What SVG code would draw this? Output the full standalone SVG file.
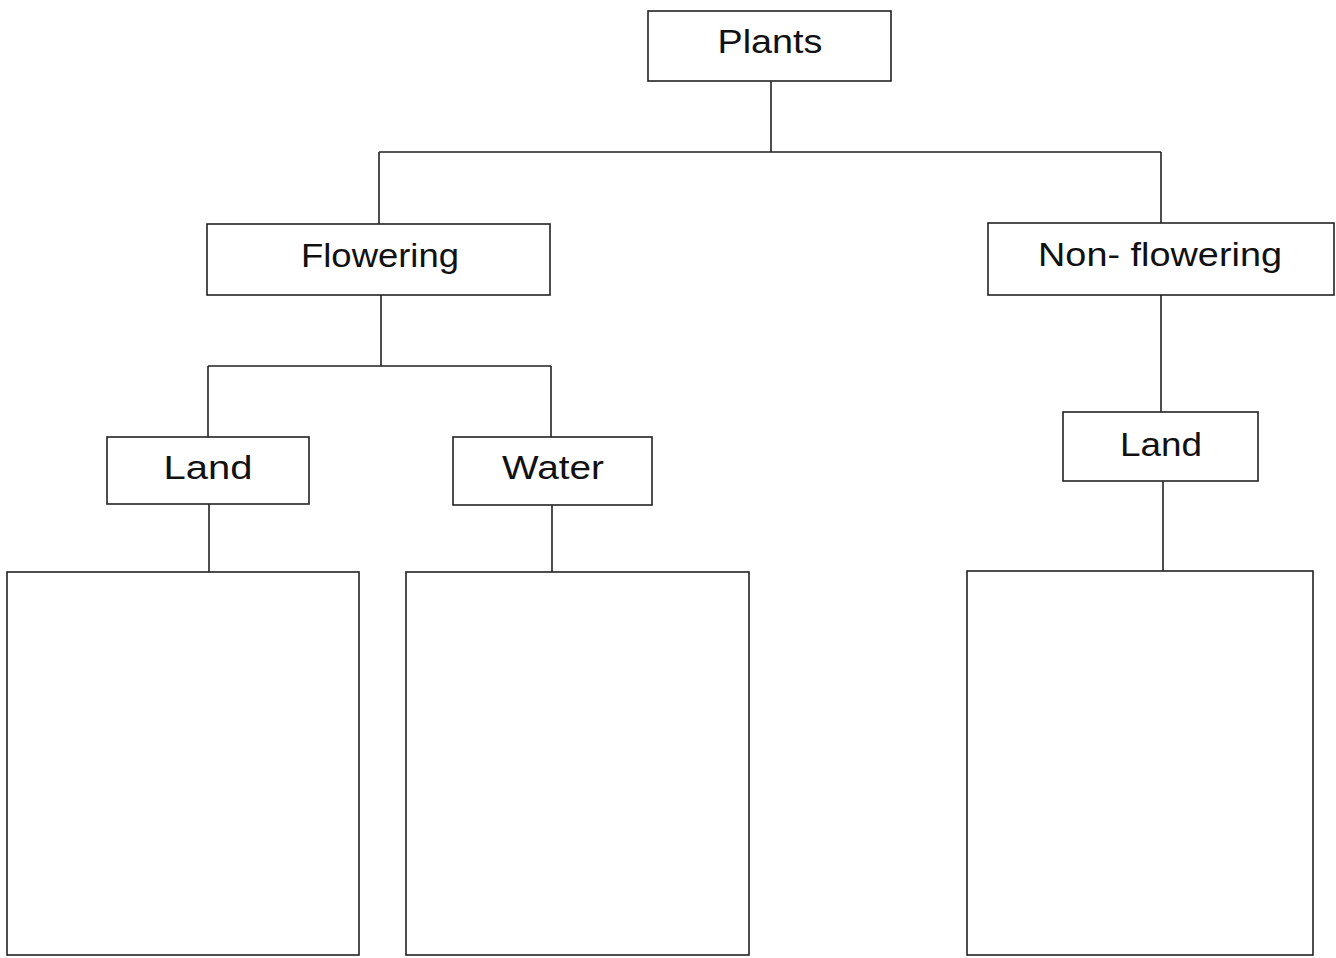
<svg xmlns="http://www.w3.org/2000/svg" width="1336" height="958" viewBox="0 0 1336 958">
<style>
.box{fill:#fff;stroke:#222;stroke-width:1.6}
.lbl{font-family:"Liberation Sans",Arial,sans-serif;font-size:33px;fill:#111;text-anchor:middle}
.conn{fill:none;stroke:#222;stroke-width:1.6}
</style>
<rect width="1336" height="958" fill="#fff"/>
<g id="connectors">
<path class="conn" d="M771 81 V152 M379 152 H1161 M379 152 V224 M1161 152 V223"/>
<path class="conn" d="M381 295 V366 M208 366 H551 M208 366 V437 M551 366 V437"/>
<path class="conn" d="M209 504 V572 M552 505 V572"/>
<path class="conn" d="M1161 295 V412 M1163 481 V571"/>
</g>
<g id="plants"><rect class="box" x="648" y="11" width="243" height="70"/><text class="lbl" x="770" y="53" textLength="105" lengthAdjust="spacingAndGlyphs">Plants</text></g>
<g id="flowering"><rect class="box" x="207" y="224" width="343" height="71"/><text class="lbl" x="380" y="267" textLength="158" lengthAdjust="spacingAndGlyphs">Flowering</text></g>
<g id="nonflowering"><rect class="box" x="988" y="223" width="346" height="72"/><text class="lbl" x="1160" y="266" textLength="244" lengthAdjust="spacingAndGlyphs">Non- flowering</text></g>
<g id="land1"><rect class="box" x="107" y="437" width="202" height="67"/><text class="lbl" x="208" y="479" textLength="89" lengthAdjust="spacingAndGlyphs">Land</text></g>
<g id="water"><rect class="box" x="453" y="437" width="199" height="68"/><text class="lbl" x="553" y="479" textLength="102" lengthAdjust="spacingAndGlyphs">Water</text></g>
<g id="land2"><rect class="box" x="1063" y="412" width="195" height="69"/><text class="lbl" x="1161" y="456" textLength="82" lengthAdjust="spacingAndGlyphs">Land</text></g>
<g id="box1"><rect class="box" x="7" y="572" width="352" height="383"/></g>
<g id="box2"><rect class="box" x="406" y="572" width="343" height="383"/></g>
<g id="box3"><rect class="box" x="967" y="571" width="346" height="384"/></g>
</svg>
